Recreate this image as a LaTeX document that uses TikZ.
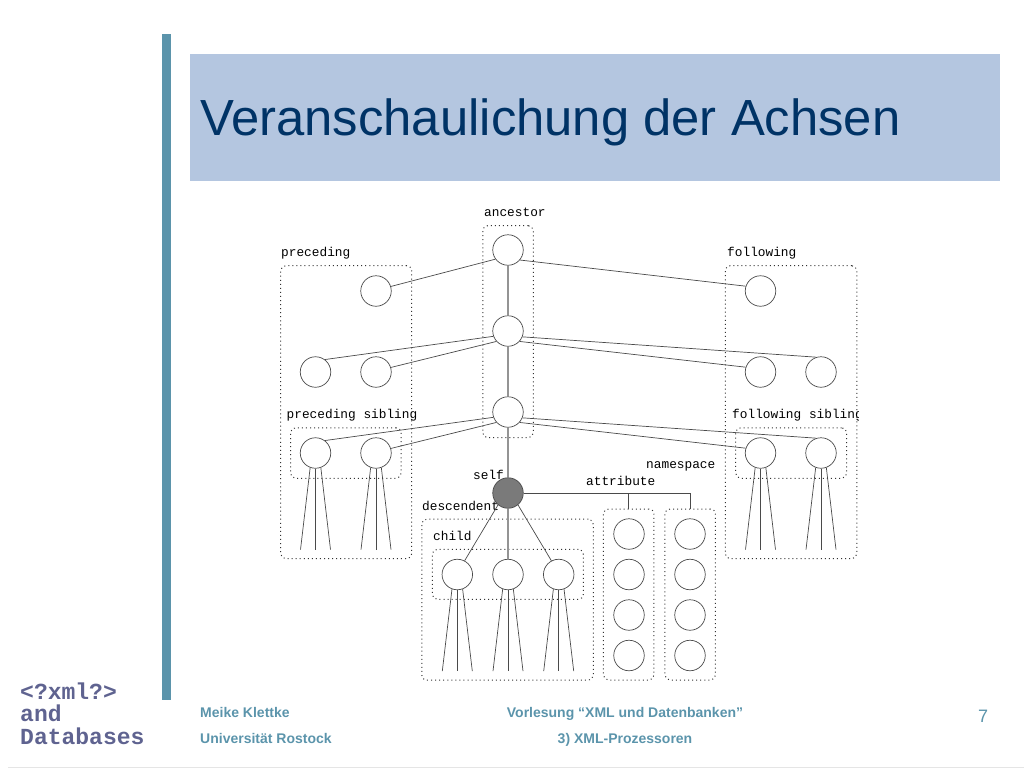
\documentclass[tikz,border=0pt]{standalone}
\usepackage{fontspec}
\setmainfont{Liberation Sans}
\setmonofont{Liberation Mono}
\definecolor{barblue}{HTML}{5B94AB}
\definecolor{bandblue}{HTML}{B4C6E0}
\definecolor{titleblue}{HTML}{003366}
\definecolor{logoblue}{HTML}{5F6390}
\definecolor{linegrey}{HTML}{4A4A4A}

\newcommand{\treestubs}[1]{
  \coordinate (#1l) at ([xshift=-15pt,yshift=-81pt]#1.south);
  \coordinate (#1m) at ([yshift=-81pt]#1.south);
  \coordinate (#1r) at ([xshift=15pt,yshift=-81pt]#1.south);
  \draw [edge] (#1.-110) to (#1l);
  \draw [edge] (#1.south) to (#1m);
  \draw [edge] (#1.-70) to (#1r);
}

\begin{document}
\begin{tikzpicture}[x=1pt,y=-1pt,
    elem/.style={circle,draw=linegrey,line width=0.7pt,minimum size=30.5pt,inner sep=0pt},
    edge/.style={draw=linegrey,line width=0.7pt},
    spine/.style={draw=black!42,line width=1.1pt},
    region/.style={draw=black!80,rounded corners=5pt,line width=1pt,dash pattern=on 1pt off 3.05pt,inner sep=0pt},
    axis/.style={anchor=west,inner sep=0pt,font=\ttfamily\fontsize{12.8}{14}\selectfont},
    foot/.style={inner sep=0pt,text=barblue,font=\bfseries\fontsize{14}{16}\selectfont},
    logo/.style={anchor=west,inner sep=0pt,text=logoblue,font=\ttfamily\bfseries\fontsize{23}{24}\selectfont}]
  \useasboundingbox (0,0) rectangle (1024,768);

  % slide frame
  \node [fill=barblue,minimum width=9pt,minimum height=666pt,inner sep=0pt] (bar) at (166.5,367) {};
  \node [fill=bandblue,minimum width=810.5pt,minimum height=127.5pt,inner sep=0pt] (band) at (594.75,117.5) {};
  \node [anchor=west,inner sep=0pt,text=titleblue,font=\fontsize{50.8}{56}\selectfont] (title) at (200,122) {Veranschaulichung der Achsen};
  \node [fill=black!10,minimum width=1016pt,minimum height=1pt,inner sep=0pt] (rule) at (516,767.5) {};

  % footer
  \node [logo] (logoa) at (20,691) {<?xml?>};
  \node [logo] (logob) at (20,713) {and};
  \node [logo] (logoc) at (20,736) {Databases};
  \node [foot,anchor=west] (author) at (200,712) {Meike Klettke};
  \node [foot,anchor=west] (uni) at (200,738) {Universität Rostock};
  \node [foot] (course) at (625,714) {Vorlesung “XML und Datenbanken”};
  \node [foot] (chapter) at (625,740) {3) XML-Prozessoren};
  \node [inner sep=0pt,text=barblue,font=\fontsize{18}{20}\selectfont] (pageno) at (983,716) {7};

  % regions
  \node [region,minimum width=50.5pt,minimum height=212pt] (ancbox) at (508,331.7) {};
  \node [region,minimum width=131pt,minimum height=293pt] (precbox) at (346.2,412.2) {};
  \node [region,minimum width=110.5pt,minimum height=50.5pt] (precsibbox) at (345.8,453) {};
  \node [region,minimum width=131.5pt,minimum height=293pt] (follbox) at (791,412.2) {};
  \node [region,minimum width=111pt,minimum height=50.5pt] (follsibbox) at (791.2,453) {};
  \node [region,minimum width=171.5pt,minimum height=161pt] (descbox) at (507.5,599.7) {};
  \node [region,minimum width=151pt,minimum height=50pt] (childbox) at (507.8,574.3) {};
  \node [region,minimum width=50.5pt,minimum height=171pt] (attrbox) at (628.7,594.5) {};
  \node [region,minimum width=50.5pt,minimum height=171pt] (nsbox) at (690.2,594.5) {};

  % axis names
  \node [axis] (ancname) at (484,212) {ancestor};
  \node [axis] (precname) at (281,253) {preceding};
  \node [axis] (follname) at (727,253) {following};
  \node [axis] (precsibname) at (286.5,415) {preceding sibling};
  \begin{scope}
    \clip (725,405) rectangle (858.5,425);
    \node [axis] (follsibname) at (732,415) {following sibling};
  \end{scope}
  \node [axis] (selfname) at (473,475) {self};
  \node [axis] (nsname) at (646,466) {namespace};
  \node [axis] (attrname) at (586,481) {attribute};
  \node [axis] (descname) at (422,506) {descendent};
  \node [axis] (childname) at (433,536) {child};

  % nodes
  \node [elem] (anca) at (508,250) {};
  \node [elem] (ancb) at (508,331) {};
  \node [elem] (ancc) at (508,412) {};
  \node [elem,fill=black!52] (self) at (508,493) {};
  \node [elem] (preca) at (376,291) {};
  \node [elem] (precb) at (315.5,372) {};
  \node [elem] (precc) at (376,372) {};
  \node [elem] (psiba) at (315.5,453) {};
  \node [elem] (psibb) at (376,453) {};
  \node [elem] (folla) at (760.5,291) {};
  \node [elem] (follb) at (760.5,372) {};
  \node [elem] (follc) at (821,372) {};
  \node [elem] (fsiba) at (760.5,453) {};
  \node [elem] (fsibb) at (821,453) {};
  \node [elem] (childa) at (457.3,574.5) {};
  \node [elem] (childb) at (508,574.5) {};
  \node [elem] (childc) at (558.7,574.5) {};
  \node [elem] (attra) at (629,534) {};
  \node [elem] (attrb) at (629,574.5) {};
  \node [elem] (attrc) at (629,615) {};
  \node [elem] (attrd) at (629,655.5) {};
  \node [elem] (nsa) at (690,534) {};
  \node [elem] (nsb) at (690,574.5) {};
  \node [elem] (nsc) at (690,615) {};
  \node [elem] (nsd) at (690,655.5) {};

  % connectors
  \draw [spine] (anca) to (ancb);
  \draw [spine] (ancb) to (ancc);
  \draw [spine] (ancc) to (self);
  \draw [spine] (self) to (childb);
  \draw [edge] (anca.216) to (preca.17);
  \draw [edge] (anca.-40) to (folla.162);
  \draw [edge] (ancb.200) to (precb.53);
  \draw [edge] (ancb.222) to (precc.17);
  \draw [edge] (ancb.-22) to (follc.108);
  \draw [edge] (ancb.-42) to (follb.162);
  \draw [edge] (ancc.200) to (psiba.53);
  \draw [edge] (ancc.222) to (psibb.17);
  \draw [edge] (ancc.-22) to (fsibb.108);
  \draw [edge] (ancc.-42) to (fsiba.162);
  \draw [edge] (self.-130) to (childa.62);
  \draw [edge] (self.-50) to (childc.118);
  \draw [edge] (self.east) -| (attrbox.north);
  \draw [edge] (self.east) -| (nsbox.north);

  \treestubs{psiba}
  \treestubs{psibb}
  \treestubs{fsiba}
  \treestubs{fsibb}
  \treestubs{childa}
  \treestubs{childb}
  \treestubs{childc}
\end{tikzpicture}
\end{document}
